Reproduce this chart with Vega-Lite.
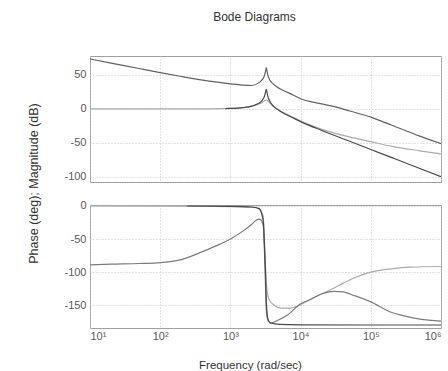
{
  "$schema": "https://vega.github.io/schema/vega-lite/v6.json",
  "padding": {"left": 26, "top": 10, "right": 0, "bottom": 0},
  "background": "white",
  "title": {"text": "Bode Diagrams", "font": "Liberation Sans", "fontSize": 12, "fontWeight": "normal", "color": "#333333", "frame": "group", "anchor": "middle", "dx": -11, "offset": 32},
  "config": {
    "view": {"stroke": "#a0a0a0", "strokeWidth": 1},
    "axis": {"domain": false, "ticks": false, "grid": true, "gridColor": "#c4c4c4", "gridDash": [1, 2], "gridWidth": 1,
      "labelFont": "Liberation Sans", "labelFontSize": 11, "labelColor": "#5a5a5a", "labelPadding": 4,
      "titleFont": "Liberation Sans", "titleFontWeight": "normal", "titleColor": "#333333"}
  },
  "resolve": {"scale": {"color": "independent"}},
  "datasets": {
    "mag": [
      {"s": "L", "f": 10, "v": 0}, {"s": "L", "f": 100, "v": 0}, {"s": "L", "f": 500, "v": 0.2}, {"s": "L", "f": 1000, "v": 0.8},
      {"s": "L", "f": 1500, "v": 1.9}, {"s": "L", "f": 2000, "v": 3.8}, {"s": "L", "f": 2500, "v": 7}, {"s": "L", "f": 2800, "v": 9.3},
      {"s": "L", "f": 3000, "v": 11.3}, {"s": "L", "f": 3100, "v": 12.4}, {"s": "L", "f": 3240, "v": 13.2}, {"s": "L", "f": 3400, "v": 12.2},
      {"s": "L", "f": 3600, "v": 9.4}, {"s": "L", "f": 4000, "v": 4.8}, {"s": "L", "f": 5000, "v": -2.4}, {"s": "L", "f": 6000, "v": -6.8},
      {"s": "L", "f": 7000, "v": -10}, {"s": "L", "f": 10000, "v": -17.8}, {"s": "L", "f": 14000, "v": -24}, {"s": "L", "f": 20000, "v": -30},
      {"s": "L", "f": 27000, "v": -34}, {"s": "L", "f": 50000, "v": -41}, {"s": "L", "f": 100000, "v": -48}, {"s": "L", "f": 200000, "v": -55},
      {"s": "L", "f": 500000, "v": -61.5}, {"s": "L", "f": 1000000, "v": -66},
      {"s": "B", "f": 850, "v": 0.6}, {"s": "B", "f": 1000, "v": 0.8}, {"s": "B", "f": 1500, "v": 2}, {"s": "B", "f": 2000, "v": 4.2},
      {"s": "B", "f": 2500, "v": 7.9}, {"s": "B", "f": 2800, "v": 12}, {"s": "B", "f": 3000, "v": 16.7}, {"s": "B", "f": 3100, "v": 20.8},
      {"s": "B", "f": 3200, "v": 27.3}, {"s": "B", "f": 3240, "v": 29}, {"s": "B", "f": 3300, "v": 25.7}, {"s": "B", "f": 3400, "v": 19.4},
      {"s": "B", "f": 3600, "v": 12.6}, {"s": "B", "f": 4000, "v": 5.4}, {"s": "B", "f": 5000, "v": -2.6}, {"s": "B", "f": 6000, "v": -7.3},
      {"s": "B", "f": 7000, "v": -10.6}, {"s": "B", "f": 10000, "v": -18.6}, {"s": "B", "f": 20000, "v": -31.6}, {"s": "B", "f": 50000, "v": -47.5},
      {"s": "B", "f": 100000, "v": -59.6}, {"s": "B", "f": 200000, "v": -71.6}, {"s": "B", "f": 500000, "v": -87.5}, {"s": "B", "f": 1000000, "v": -99.6},
      {"s": "A", "f": 10, "v": 73.5}, {"s": "A", "f": 20, "v": 67.5}, {"s": "A", "f": 50, "v": 59.5}, {"s": "A", "f": 100, "v": 53.5},
      {"s": "A", "f": 200, "v": 47.8}, {"s": "A", "f": 500, "v": 41}, {"s": "A", "f": 1000, "v": 37}, {"s": "A", "f": 1500, "v": 35},
      {"s": "A", "f": 2000, "v": 34.5}, {"s": "A", "f": 2500, "v": 38}, {"s": "A", "f": 2800, "v": 42.5}, {"s": "A", "f": 3000, "v": 47},
      {"s": "A", "f": 3100, "v": 51.5}, {"s": "A", "f": 3200, "v": 58}, {"s": "A", "f": 3240, "v": 61}, {"s": "A", "f": 3300, "v": 57},
      {"s": "A", "f": 3400, "v": 50.5}, {"s": "A", "f": 3600, "v": 43.5}, {"s": "A", "f": 4000, "v": 37.5}, {"s": "A", "f": 5000, "v": 30},
      {"s": "A", "f": 6000, "v": 26}, {"s": "A", "f": 7000, "v": 23}, {"s": "A", "f": 10000, "v": 15}, {"s": "A", "f": 20000, "v": 7.5},
      {"s": "A", "f": 31600, "v": 3}, {"s": "A", "f": 50000, "v": -3}, {"s": "A", "f": 100000, "v": -12}, {"s": "A", "f": 200000, "v": -24},
      {"s": "A", "f": 500000, "v": -40}, {"s": "A", "f": 1000000, "v": -51}
    ],
    "phase": [
      {"s": "L", "f": 10, "v": 0}, {"s": "L", "f": 100, "v": -0.2}, {"s": "L", "f": 500, "v": -0.6}, {"s": "L", "f": 1000, "v": -1},
      {"s": "L", "f": 1500, "v": -1.5}, {"s": "L", "f": 2170, "v": -2}, {"s": "L", "f": 2600, "v": -5}, {"s": "L", "f": 2910, "v": -14},
      {"s": "L", "f": 3040, "v": -44}, {"s": "L", "f": 3150, "v": -85}, {"s": "L", "f": 3270, "v": -120}, {"s": "L", "f": 3540, "v": -141},
      {"s": "L", "f": 4190, "v": -150}, {"s": "L", "f": 5270, "v": -154.5}, {"s": "L", "f": 7280, "v": -154.5}, {"s": "L", "f": 10000, "v": -149},
      {"s": "L", "f": 14000, "v": -141}, {"s": "L", "f": 18000, "v": -135}, {"s": "L", "f": 23000, "v": -130}, {"s": "L", "f": 30000, "v": -124},
      {"s": "L", "f": 40000, "v": -117}, {"s": "L", "f": 57500, "v": -109}, {"s": "L", "f": 100000, "v": -100}, {"s": "L", "f": 194000, "v": -95},
      {"s": "L", "f": 373000, "v": -92.4}, {"s": "L", "f": 1000000, "v": -91.5},
      {"s": "A", "f": 10, "v": -89}, {"s": "A", "f": 20, "v": -88}, {"s": "A", "f": 50, "v": -87}, {"s": "A", "f": 100, "v": -85.5},
      {"s": "A", "f": 200, "v": -81}, {"s": "A", "f": 400, "v": -69}, {"s": "A", "f": 700, "v": -58}, {"s": "A", "f": 1000, "v": -50},
      {"s": "A", "f": 1500, "v": -38}, {"s": "A", "f": 2000, "v": -28}, {"s": "A", "f": 2300, "v": -22}, {"s": "A", "f": 2600, "v": -20},
      {"s": "A", "f": 2800, "v": -23}, {"s": "A", "f": 2950, "v": -32}, {"s": "A", "f": 3040, "v": -60}, {"s": "A", "f": 3150, "v": -115},
      {"s": "A", "f": 3250, "v": -158}, {"s": "A", "f": 3430, "v": -173}, {"s": "A", "f": 3750, "v": -177}, {"s": "A", "f": 4500, "v": -174},
      {"s": "A", "f": 6500, "v": -165}, {"s": "A", "f": 10000, "v": -148}, {"s": "A", "f": 14000, "v": -141}, {"s": "A", "f": 18000, "v": -135},
      {"s": "A", "f": 23000, "v": -131}, {"s": "A", "f": 30000, "v": -129}, {"s": "A", "f": 40000, "v": -130}, {"s": "A", "f": 60000, "v": -136},
      {"s": "A", "f": 100000, "v": -145}, {"s": "A", "f": 200000, "v": -161}, {"s": "A", "f": 270000, "v": -165}, {"s": "A", "f": 500000, "v": -171},
      {"s": "A", "f": 1000000, "v": -174},
      {"s": "B", "f": 240, "v": 0}, {"s": "B", "f": 1000, "v": -0.5}, {"s": "B", "f": 2000, "v": -1.5}, {"s": "B", "f": 2580, "v": -4},
      {"s": "B", "f": 2790, "v": -12}, {"s": "B", "f": 2945, "v": -24}, {"s": "B", "f": 3040, "v": -55}, {"s": "B", "f": 3150, "v": -95},
      {"s": "B", "f": 3250, "v": -145}, {"s": "B", "f": 3430, "v": -171}, {"s": "B", "f": 3750, "v": -177}, {"s": "B", "f": 5000, "v": -179},
      {"s": "B", "f": 10000, "v": -179.7}, {"s": "B", "f": 100000, "v": -180}, {"s": "B", "f": 1000000, "v": -180}
    ]
  },
  "bounds": "flush",
  "spacing": 23,
  "vconcat": [
    {
      "width": 351, "height": 126,
      "data": {"name": "mag"},
      "mark": {"type": "line", "strokeWidth": 1.2, "clip": true, "interpolate": "monotone"},
      "encoding": {
        "x": {"field": "f", "type": "quantitative", "scale": {"type": "log", "domain": [10, 1000000]},
          "axis": {"values": [10, 100, 1000, 10000, 100000, 1000000], "labels": false, "title": null}},
        "y": {"field": "v", "type": "quantitative", "scale": {"domain": [-107.4, 77.9], "nice": false, "zero": false},
          "axis": {"values": [-100, -50, 0, 50], "labelExpr": "'' + datum.value", "title": "Phase (deg); Magnitude (dB)", "titleFontSize": 12.5,
            "titleX": -56.5, "titleY": 127, "titleAngle": -90, "titleAlign": "center", "titleBaseline": "middle"}},
        "color": {"field": "s", "type": "nominal", "legend": null,
          "scale": {"domain": ["L", "B", "A"], "range": ["#ababab", "#4a4a4a", "#626262"]}}
      }
    },
    {
      "width": 351, "height": 123,
      "data": {"name": "phase"},
      "mark": {"type": "line", "strokeWidth": 1.2, "clip": true, "interpolate": "monotone"},
      "encoding": {
        "x": {"field": "f", "type": "quantitative", "scale": {"type": "log", "domain": [10, 1000000]},
          "axis": {"values": [10, 100, 1000, 10000, 100000, 1000000],
            "labelExpr": "'10' + ['⁰','¹','²','³','⁴','⁵','⁶'][round(log(datum.value)/LN10)]",
            "labelPadding": 2,
            "title": "Frequency (rad/sec)", "titleFontSize": 11.5, "titleX": 160, "titleY": 37, "titleBaseline": "middle", "titleAlign": "center"}},
        "y": {"field": "v", "type": "quantitative", "scale": {"domain": [-184.5, 1.5], "nice": false, "zero": false},
          "axis": {"values": [-150, -100, -50, 0], "labelExpr": "'' + datum.value", "title": null}},
        "color": {"field": "s", "type": "nominal", "legend": null,
          "scale": {"domain": ["L", "A", "B"], "range": ["#ababab", "#7c7c7c", "#4a4a4a"]}}
      }
    }
  ]
}
